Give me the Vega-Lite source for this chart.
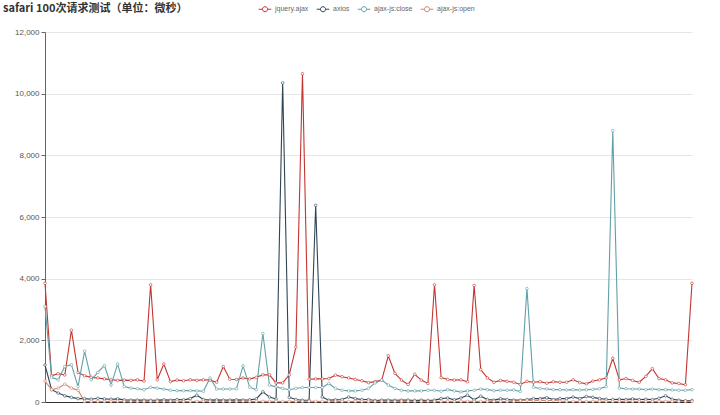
{
 "$schema": "https://vega.github.io/schema/vega-lite/v6.json",
 "width": 647,
 "height": 370,
 "autosize": {"type": "none"},
 "padding": {"left": 45, "top": 32, "right": 28, "bottom": 13},
 "background": "white",
 "title": {"text": "safari 100次请求测试（单位：微秒）", "anchor": "start", "frame": "group", "dx": -42, "offset": -12, "fontSize": 11, "fontWeight": "bold", "font": "Noto Sans CJK SC", "color": "#333"},
 "data": {"values": [
  {"i":0,"jq":3850,"ax":1200,"cl":3100,"op":680},
  {"i":1,"jq":850,"ax":400,"cl":800,"op":400},
  {"i":2,"jq":920,"ax":290,"cl":720,"op":450},
  {"i":3,"jq":877,"ax":200,"cl":1150,"op":580},
  {"i":4,"jq":2330,"ax":150,"cl":1210,"op":450},
  {"i":5,"jq":960,"ax":110,"cl":500,"op":380},
  {"i":6,"jq":850,"ax":110,"cl":1650,"op":20},
  {"i":7,"jq":800,"ax":90,"cl":720,"op":18},
  {"i":8,"jq":780,"ax":120,"cl":960,"op":22},
  {"i":9,"jq":750,"ax":100,"cl":1180,"op":15},
  {"i":10,"jq":720,"ax":90,"cl":550,"op":20},
  {"i":11,"jq":700,"ax":100,"cl":1230,"op":25},
  {"i":12,"jq":710,"ax":70,"cl":500,"op":18},
  {"i":13,"jq":700,"ax":60,"cl":450,"op":20},
  {"i":14,"jq":720,"ax":60,"cl":430,"op":15},
  {"i":15,"jq":680,"ax":60,"cl":400,"op":20},
  {"i":16,"jq":3800,"ax":55,"cl":480,"op":22},
  {"i":17,"jq":720,"ax":60,"cl":450,"op":18},
  {"i":18,"jq":1230,"ax":70,"cl":420,"op":20},
  {"i":19,"jq":660,"ax":60,"cl":380,"op":25},
  {"i":20,"jq":710,"ax":80,"cl":370,"op":20},
  {"i":21,"jq":690,"ax":70,"cl":370,"op":15},
  {"i":22,"jq":720,"ax":110,"cl":370,"op":18},
  {"i":23,"jq":700,"ax":220,"cl":360,"op":20},
  {"i":24,"jq":720,"ax":80,"cl":350,"op":22},
  {"i":25,"jq":710,"ax":60,"cl":780,"op":20},
  {"i":26,"jq":640,"ax":70,"cl":420,"op":18},
  {"i":27,"jq":1150,"ax":60,"cl":420,"op":20},
  {"i":28,"jq":740,"ax":60,"cl":420,"op":15},
  {"i":29,"jq":730,"ax":70,"cl":430,"op":20},
  {"i":30,"jq":780,"ax":60,"cl":1170,"op":25},
  {"i":31,"jq":750,"ax":70,"cl":480,"op":20},
  {"i":32,"jq":800,"ax":100,"cl":400,"op":18},
  {"i":33,"jq":880,"ax":330,"cl":2220,"op":20},
  {"i":34,"jq":880,"ax":160,"cl":550,"op":22},
  {"i":35,"jq":620,"ax":100,"cl":490,"op":20},
  {"i":36,"jq":620,"ax":10350,"cl":440,"op":15},
  {"i":37,"jq":880,"ax":150,"cl":400,"op":20},
  {"i":38,"jq":1780,"ax":80,"cl":440,"op":18},
  {"i":39,"jq":10650,"ax":55,"cl":470,"op":20},
  {"i":40,"jq":740,"ax":55,"cl":470,"op":22},
  {"i":41,"jq":750,"ax":6380,"cl":470,"op":20},
  {"i":42,"jq":750,"ax":160,"cl":470,"op":18},
  {"i":43,"jq":760,"ax":60,"cl":600,"op":20},
  {"i":44,"jq":870,"ax":70,"cl":440,"op":25},
  {"i":45,"jq":820,"ax":80,"cl":380,"op":20},
  {"i":46,"jq":780,"ax":160,"cl":360,"op":15},
  {"i":47,"jq":730,"ax":110,"cl":360,"op":20},
  {"i":48,"jq":690,"ax":80,"cl":380,"op":22},
  {"i":49,"jq":630,"ax":80,"cl":440,"op":20},
  {"i":50,"jq":660,"ax":50,"cl":620,"op":18},
  {"i":51,"jq":710,"ax":60,"cl":710,"op":20},
  {"i":52,"jq":1500,"ax":60,"cl":550,"op":20},
  {"i":53,"jq":930,"ax":55,"cl":440,"op":15},
  {"i":54,"jq":710,"ax":60,"cl":380,"op":20},
  {"i":55,"jq":570,"ax":60,"cl":360,"op":22},
  {"i":56,"jq":900,"ax":50,"cl":360,"op":18},
  {"i":57,"jq":710,"ax":60,"cl":360,"op":20},
  {"i":58,"jq":600,"ax":50,"cl":380,"op":25},
  {"i":59,"jq":3800,"ax":60,"cl":380,"op":20},
  {"i":60,"jq":790,"ax":110,"cl":350,"op":18},
  {"i":61,"jq":730,"ax":130,"cl":400,"op":20},
  {"i":62,"jq":710,"ax":70,"cl":360,"op":15},
  {"i":63,"jq":720,"ax":130,"cl":330,"op":20},
  {"i":64,"jq":655,"ax":220,"cl":360,"op":22},
  {"i":65,"jq":3780,"ax":70,"cl":380,"op":20},
  {"i":66,"jq":1050,"ax":190,"cl":420,"op":18},
  {"i":67,"jq":780,"ax":80,"cl":400,"op":20},
  {"i":68,"jq":640,"ax":60,"cl":370,"op":25},
  {"i":69,"jq":700,"ax":110,"cl":380,"op":20},
  {"i":70,"jq":670,"ax":80,"cl":380,"op":18},
  {"i":71,"jq":640,"ax":60,"cl":390,"op":20},
  {"i":72,"jq":570,"ax":60,"cl":340,"op":40},
  {"i":73,"jq":670,"ax":80,"cl":3680,"op":60},
  {"i":74,"jq":640,"ax":110,"cl":480,"op":45},
  {"i":75,"jq":660,"ax":110,"cl":440,"op":60},
  {"i":76,"jq":610,"ax":140,"cl":420,"op":40},
  {"i":77,"jq":660,"ax":80,"cl":400,"op":55},
  {"i":78,"jq":640,"ax":110,"cl":400,"op":30},
  {"i":79,"jq":640,"ax":110,"cl":390,"op":20},
  {"i":80,"jq":720,"ax":160,"cl":400,"op":18},
  {"i":81,"jq":630,"ax":110,"cl":390,"op":20},
  {"i":82,"jq":590,"ax":180,"cl":400,"op":15},
  {"i":83,"jq":680,"ax":150,"cl":410,"op":20},
  {"i":84,"jq":720,"ax":110,"cl":430,"op":22},
  {"i":85,"jq":780,"ax":90,"cl":500,"op":20},
  {"i":86,"jq":1420,"ax":80,"cl":8800,"op":18},
  {"i":87,"jq":720,"ax":90,"cl":450,"op":20},
  {"i":88,"jq":760,"ax":80,"cl":430,"op":25},
  {"i":89,"jq":700,"ax":100,"cl":420,"op":20},
  {"i":90,"jq":640,"ax":80,"cl":420,"op":18},
  {"i":91,"jq":830,"ax":90,"cl":400,"op":20},
  {"i":92,"jq":1080,"ax":80,"cl":420,"op":15},
  {"i":93,"jq":760,"ax":120,"cl":400,"op":20},
  {"i":94,"jq":720,"ax":200,"cl":400,"op":22},
  {"i":95,"jq":620,"ax":90,"cl":390,"op":20},
  {"i":96,"jq":600,"ax":60,"cl":380,"op":18},
  {"i":97,"jq":560,"ax":40,"cl":380,"op":20},
  {"i":98,"jq":3850,"ax":50,"cl":400,"op":20}
 ]},
 "transform": [{"fold": ["jq", "ax", "cl", "op"], "as": ["series", "v"]}],
 "mark": {"type": "line", "strokeWidth": 1.1, "point": {"filled": false, "fill": "white", "size": 7, "strokeWidth": 0.6}},
 "encoding": {
  "x": {"field": "i", "type": "quantitative", "scale": {"domain": [0, 98], "nice": false, "zero": false}, "axis": {"title": null, "labels": false, "ticks": false, "grid": false, "domainColor": "#333"}},
  "y": {"field": "v", "type": "quantitative", "scale": {"domain": [0, 12000], "nice": false}, "axis": {"title": null, "values": [0, 2000, 4000, 6000, 8000, 10000, 12000], "labelExpr": "format(datum.value, ',.0f')", "labelFontSize": 8, "labelColor": "#555", "labelFont": "Liberation Sans", "tickColor": "#666", "domainColor": "#666", "tickSize": 4, "labelPadding": 2, "gridColor": "#e6e6e6"}},
  "color": {"field": "series", "type": "nominal", "sort": null, "scale": {"domain": ["jq", "ax", "cl", "op"], "range": ["#c23531", "#2f4554", "#61a0a8", "#d48265"]},
   "legend": {"title": null, "orient": "none", "legendX": 213, "legendY": -30, "direction": "horizontal", "columns": 4, "symbolType": "M-1,0H-0.4M0.4,0H1M0.4,0A0.4,0.4,0,1,1,-0.4,0A0.4,0.4,0,1,1,0.4,0", "symbolSize": 160, "symbolStrokeWidth": 1, "labelFontSize": 7, "labelColor": "#666", "labelFont": "Liberation Sans", "columnPadding": 5, "labelOffset": 3,
    "labelExpr": "datum.label == 'jq' ? 'jquery.ajax' : datum.label == 'ax' ? 'axios' : datum.label == 'cl' ? 'ajax-js:close' : 'ajax-js:open'"}}
 },
 "config": {"view": {"stroke": null}}
}
